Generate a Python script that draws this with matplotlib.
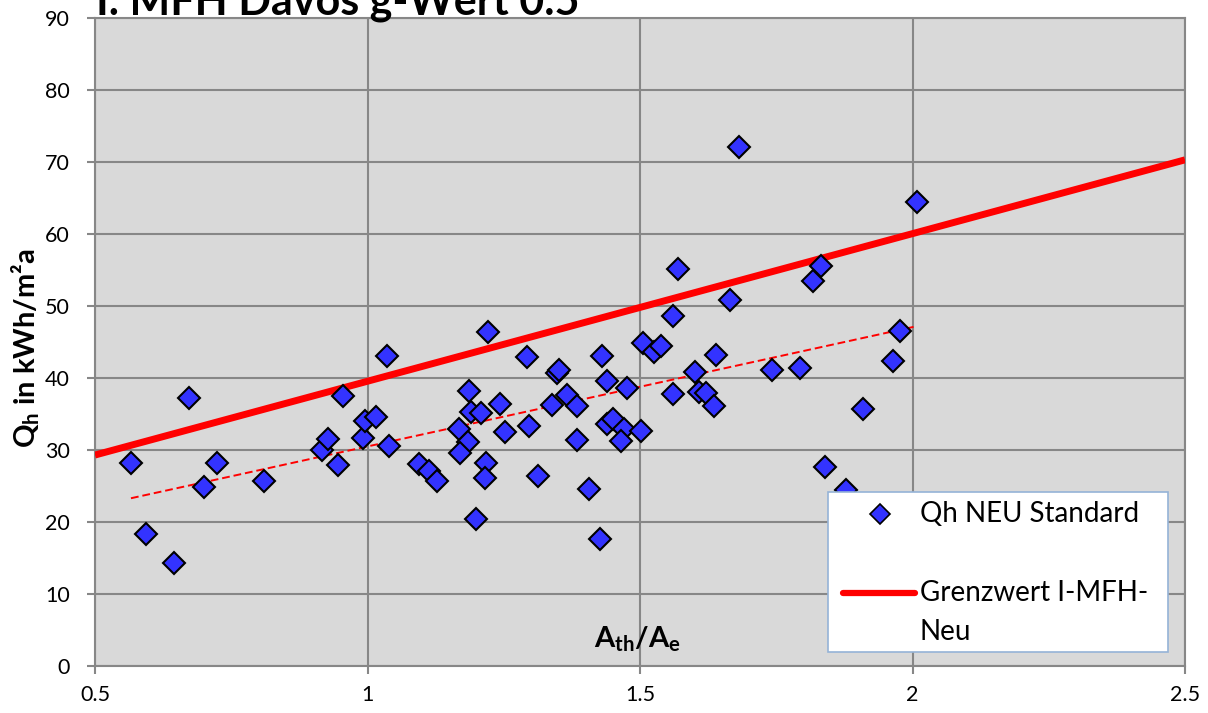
import matplotlib
matplotlib.use("Agg")
import matplotlib.pyplot as plt
from matplotlib.patches import Rectangle

plt.rcParams['font.family'] = ['Lato', 'DejaVu Sans']
plt.rcParams['mathtext.default'] = 'regular'

# ---- data ----
ath_ae = [0.566, 0.594, 0.645, 0.672, 0.700, 0.724, 0.810,
          0.917, 0.928, 0.946, 0.955, 0.992, 0.996, 1.016, 1.036, 1.039,
          1.095, 1.113, 1.128,
          1.168, 1.184, 1.170, 1.186, 1.190, 1.208, 1.199, 1.217, 1.216, 1.221,
          1.243, 1.252, 1.293, 1.296, 1.313, 1.339, 1.348, 1.351, 1.366, 1.384,
          1.384, 1.406, 1.427, 1.430, 1.439, 1.439, 1.450, 1.471, 1.465, 1.476, 1.502,
          1.505, 1.526, 1.538, 1.560, 1.560, 1.570, 1.601, 1.608, 1.621, 1.636,
          1.640, 1.665, 1.682,
          1.742, 1.794, 1.817, 1.832, 1.839, 1.878, 1.909, 1.964, 1.977, 2.008]
qh = [28.2, 18.3, 14.3, 37.2, 24.9, 28.2, 25.7,
      30.0, 31.5, 27.9, 37.5, 31.6, 34.0, 34.6, 43.1, 30.6,
      28.1, 27.1, 25.7,
      32.9, 31.1, 29.6, 38.2, 35.3, 35.1, 20.4, 28.2, 26.1, 46.4,
      36.4, 32.5, 42.9, 33.3, 26.4, 36.3, 40.7, 41.1, 37.6, 36.1,
      31.4, 24.6, 17.6, 43.1, 39.6, 33.6, 34.3, 32.9, 31.3, 38.6, 32.6,
      44.9, 43.6, 44.4, 48.6, 37.8, 55.1, 40.8, 38.1, 37.9, 36.1,
      43.2, 50.8, 72.1,
      41.1, 41.4, 53.5, 55.5, 27.6, 24.4, 35.7, 42.4, 46.5, 64.4]

grenz_x = [0.5, 2.5]
grenz_y = [29.3, 70.3]

trend_x = [0.566, 2.008]
trend_y = [23.3, 47.2]

x_ticks = [0.5, 1, 1.5, 2, 2.5]
x_ticklabels = ['0.5', '1', '1.5', '2', '2.5']
y_ticks = list(range(0, 100, 10))

title = 'I. MFH Davos g-Wert 0.5'
legend_labels = ['Qh NEU Standard', 'Grenzwert I-MFH-', 'Neu']

# ---- figure ----
W, H = 1208, 713
fig = plt.figure(figsize=(W / 100, H / 100), dpi=100)
ax = fig.add_axes([95 / W, (H - 666) / H, 1090 / W, 648 / H])
ax.set_facecolor('#D9D9D9')

grid_c = '#878787'
ax.set_xlim(0.5, 2.5)
ax.set_ylim(0, 90)
ax.set_xticks(x_ticks)
ax.set_xticklabels(x_ticklabels)
ax.set_yticks(y_ticks)
ax.grid(True, color=grid_c, linewidth=1.5)
ax.set_axisbelow(True)
for s in ax.spines.values():
    s.set_color(grid_c)
    s.set_linewidth(1.5)
ax.tick_params(axis='both', colors=grid_c, labelcolor='black', length=6,
               width=1.5, labelsize=15.5)
ax.tick_params(axis='y', pad=12)
ax.tick_params(axis='x', pad=8)

ax.plot(grenz_x, grenz_y, color='#FF0000', linewidth=5, solid_capstyle='butt',
        zorder=3, clip_on=True)
ax.plot(trend_x, trend_y, color='#FF0000', linewidth=1.4, linestyle=(0, (4, 2)),
        zorder=3)
ax.plot(ath_ae, qh, linestyle='none', marker='D', markersize=11,
        markerfacecolor='#3333FF', markeredgecolor='black', markeredgewidth=1.5,
        zorder=4)

# axis labels
ax.text((637 - 95) / 1090, (666 - 648) / 648, r'A$_{th}$/A$_e$',
        transform=ax.transAxes, ha='center', va='baseline', fontsize=21,
        fontweight='bold', zorder=6)
fig.text(26 / W, 1 - 348 / H, r'Q$_h$ in kWh/m²a', rotation=90,
         ha='center', va='center', fontsize=21, fontweight='bold')

# title (clipped at the top, as in the reference)
fig.text(96 / W, 1 - 15 / H, title, ha='left', va='baseline',
         fontsize=31, fontweight='bold')

# legend (drawn by hand to match the layout)
lx0, lx1 = (828 - 95) / 1090, (1168 - 95) / 1090
ly0, ly1 = (666 - 652) / 648, (666 - 492) / 648
ax.add_patch(Rectangle((lx0, ly0), lx1 - lx0, ly1 - ly0, transform=ax.transAxes,
                       facecolor='white', edgecolor='#95B3D7', linewidth=1.2,
                       zorder=7))
ax.plot([(880 - 95) / 1090], [(666 - 514) / 648], transform=ax.transAxes,
        linestyle='none', marker='D', markersize=10, markerfacecolor='#3333FF',
        markeredgecolor='black', markeredgewidth=1.2, zorder=8, clip_on=False)
ax.plot([(843 - 95) / 1090, (915 - 95) / 1090], [(666 - 593) / 648] * 2,
        transform=ax.transAxes, color='#FF0000', linewidth=4.5,
        solid_capstyle='round', zorder=8, clip_on=False)
tx = (920 - 95) / 1090
for lab, py in zip(legend_labels, [514, 593, 632]):
    ax.text(tx, (666 - py) / 648, lab, transform=ax.transAxes, ha='left',
            va='center', fontsize=20, zorder=9)

fig.savefig('out.png', dpi=100)
